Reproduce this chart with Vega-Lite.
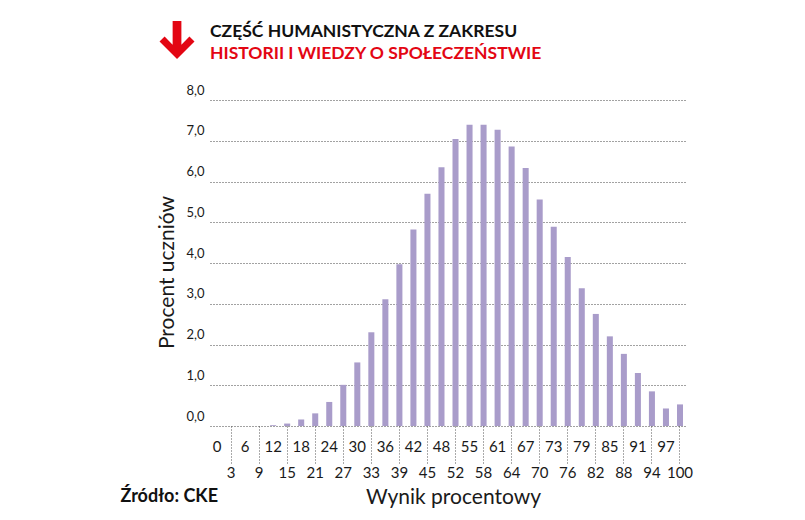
{
  "$schema": "https://vega.github.io/schema/vega-lite/v6.json",
  "width": 507,
  "height": 326,
  "autosize": {"type": "none"},
  "padding": {"left": 186, "top": 100, "right": 112, "bottom": 94},
  "background": "white",
  "config": {"view": {"stroke": null}, "font": "Lato"},
  "title": {
    "text": "CZĘŚĆ HUMANISTYCZNA Z ZAKRESU",
    "subtitle": "HISTORII I WIEDZY O SPOŁECZEŃSTWIE",
    "anchor": "start",
    "frame": "group",
    "dx": 24,
    "offset": -42,
    "font": "Lato",
    "fontSize": 17.5,
    "fontWeight": "bold",
    "color": "#111111",
    "subtitleFont": "Lato",
    "subtitleFontSize": 17.5,
    "subtitleFontWeight": "bold",
    "subtitleColor": "#e30613",
    "subtitlePadding": 5
  },
  "data": {
    "values": [
      {"wynik": 0, "procent": 0},
      {"wynik": 3, "procent": 0},
      {"wynik": 6, "procent": 0},
      {"wynik": 9, "procent": 0},
      {"wynik": 12, "procent": 0.02},
      {"wynik": 15, "procent": 0.06},
      {"wynik": 18, "procent": 0.16},
      {"wynik": 21, "procent": 0.31},
      {"wynik": 24, "procent": 0.59},
      {"wynik": 27, "procent": 1.01},
      {"wynik": 30, "procent": 1.56},
      {"wynik": 33, "procent": 2.30},
      {"wynik": 36, "procent": 3.11},
      {"wynik": 39, "procent": 3.97},
      {"wynik": 42, "procent": 4.82},
      {"wynik": 45, "procent": 5.70},
      {"wynik": 48, "procent": 6.35},
      {"wynik": 52, "procent": 7.04},
      {"wynik": 55, "procent": 7.39},
      {"wynik": 58, "procent": 7.39},
      {"wynik": 61, "procent": 7.27},
      {"wynik": 64, "procent": 6.86},
      {"wynik": 67, "procent": 6.33},
      {"wynik": 70, "procent": 5.56},
      {"wynik": 73, "procent": 4.89},
      {"wynik": 76, "procent": 4.15},
      {"wynik": 79, "procent": 3.38},
      {"wynik": 82, "procent": 2.75},
      {"wynik": 85, "procent": 2.20},
      {"wynik": 88, "procent": 1.77},
      {"wynik": 91, "procent": 1.30},
      {"wynik": 94, "procent": 0.85},
      {"wynik": 97, "procent": 0.43},
      {"wynik": 100, "procent": 0.53}
    ]
  },
  "layer": [
    {
      "mark": {"type": "bar", "color": "#a99cca"},
      "encoding": {
        "x": {
          "field": "wynik",
          "type": "ordinal",
          "sort": "ascending",
          "scale": {"range": [24, 501], "paddingInner": 0.57, "paddingOuter": 0.285},
          "axis": {
            "title": "Wynik procentowy",
            "titleFont": "Lato",
            "titleFontSize": 21,
            "titleFontWeight": "normal",
            "titleColor": "#1a1a1a",
            "titleX": 267,
            "titleY": 71,
            "titleAlign": "center",
            "titleBaseline": "middle",
            "domain": false,
            "grid": false,
            "labelAngle": 0,
            "labelFont": "Lato",
            "labelFontSize": 15,
            "labelColor": "#1a1a1a",
            "labelBaseline": "top",
            "tickSize": 38,
            "tickColor": "#555555",
            "tickDash": [1, 2],
            "tickWidth": 1,
            "tickOpacity": {"condition": {"test": "indexof([3,9,15,21,27,33,39,45,52,58,64,70,76,82,88,94,100], datum.value) >= 0", "value": 1}, "value": 0},
            "labelPadding": {"condition": {"test": "indexof([3,9,15,21,27,33,39,45,52,58,64,70,76,82,88,94,100], datum.value) >= 0", "value": 1}, "value": -25}
          }
        },
        "y": {
          "field": "procent",
          "type": "quantitative",
          "scale": {"domain": [0, 8], "nice": false},
          "axis": {
            "title": "Procent uczniów",
            "titleFont": "Lato",
            "titleFontSize": 21,
            "titleFontWeight": "normal",
            "titleColor": "#1a1a1a",
            "titleX": -9,
            "titleY": 172,
            "titleAngle": -90,
            "titleAlign": "center",
            "titleBaseline": "bottom",
            "values": [0, 1, 2, 3, 4, 5, 6, 7, 8],
            "labelExpr": "replace(format(datum.value, '.1f'), '.', ',')",
            "domain": false,
            "ticks": false,
            "tickSize": 0,
            "labelPadding": 0,
            "labelAlign": "left",
            "labelBaseline": "bottom",
            "labelOffset": -3,
            "labelFont": "Lato",
            "labelFontSize": 13,
            "labelColor": "#1a1a1a",
            "grid": true,
            "gridDash": [1, 2],
            "gridColor": "#444444",
            "gridWidth": 1
          }
        }
      }
    },
    {
      "data": {"values": [{"zrodlo": "Źródło: CKE"}]},
      "mark": {"type": "text", "align": "right", "baseline": "middle", "dx": 1, "dy": 71, "font": "Lato", "fontSize": 18, "fontWeight": "bold", "color": "#111111"},
      "encoding": {
        "x": {"datum": 0, "type": "ordinal"},
        "y": {"datum": 0, "type": "quantitative"},
        "text": {"field": "zrodlo"}
      }
    },
    {
      "data": {"values": [{"ikona": "strzałka"}]},
      "mark": {
        "type": "point",
        "shape": "M-0.25,-1.09L0.25,-1.09L0.25,0.27L0.71,-0.2L1,0.09L0,1.09L-1,0.09L-0.71,-0.2L-0.25,0.27Z",
        "size": 1225,
        "filled": true,
        "opacity": 1,
        "color": "#e30613",
        "strokeWidth": 0,
        "xOffset": -40,
        "yOffset": -60
      },
      "encoding": {
        "x": {"datum": 0, "type": "ordinal"},
        "y": {"datum": 8, "type": "quantitative"}
      }
    }
  ]
}
